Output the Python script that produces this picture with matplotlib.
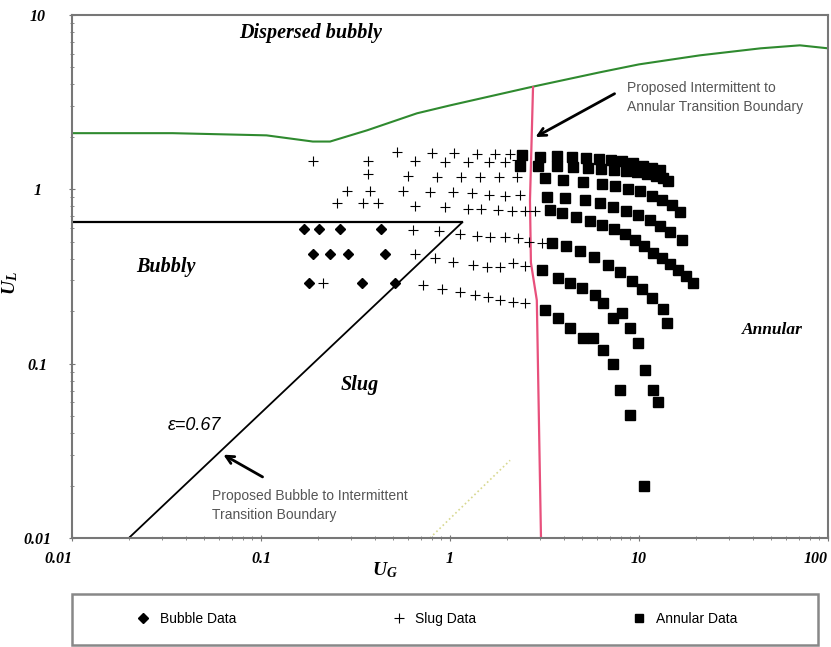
import matplotlib
matplotlib.use("Agg")
import matplotlib.pyplot as plt
from matplotlib.lines import Line2D
from matplotlib.patches import Rectangle

# ---------------- data ----------------
# bubble data (diamonds)
bubble_ug = [0.169, 0.203, 0.262, 0.431, 0.188, 0.232, 0.289, 0.453, 0.179, 0.342, 0.512]
bubble_ul = [0.589, 0.589, 0.589, 0.589, 0.424, 0.424, 0.424, 0.424, 0.289, 0.289, 0.289]

# slug data (+), row by row
slug_ug = [0.188, 0.368, 0.525, 0.653, 0.803, 0.941, 1.05, 1.25, 1.39, 1.61, 1.73, 1.95, 2.08, 2.26,
           0.368, 0.600, 0.854, 1.14, 1.44, 1.82, 2.26,
           0.285, 0.377, 0.564, 0.784, 1.04, 1.31, 1.61, 1.95, 2.35,
           0.252, 0.347, 0.416, 0.653, 0.941, 1.25, 1.46, 1.79, 2.13, 2.49, 2.82,
           0.637, 0.875, 1.13, 1.39, 1.63, 1.95, 2.29, 2.62, 3.07,
           0.653, 0.833, 1.04, 1.32, 1.57, 1.84, 2.15, 2.49,
           0.213, 0.720, 0.907, 1.13, 1.36, 1.59, 1.84, 2.15, 2.49]
slug_ul = [1.45, 1.45, 1.63, 1.45, 1.61, 1.43, 1.61, 1.43, 1.59, 1.43, 1.59, 1.43, 1.59, 1.47,
           1.22, 1.19, 1.17, 1.17, 1.17, 1.17, 1.17,
           0.974, 0.974, 0.974, 0.961, 0.961, 0.948, 0.924, 0.912, 0.924,
           0.831, 0.831, 0.831, 0.798, 0.788, 0.768, 0.768, 0.758, 0.748, 0.748, 0.748,
           0.582, 0.574, 0.552, 0.537, 0.530, 0.530, 0.524, 0.497, 0.490,
           0.424, 0.402, 0.381, 0.366, 0.357, 0.357, 0.376, 0.361,
           0.289, 0.281, 0.267, 0.256, 0.247, 0.240, 0.231, 0.225, 0.222]

# annular data (squares), arc by arc
annular_ug = [2.40, 2.99, 3.68, 4.42, 5.24, 6.14, 7.11, 8.13, 9.30, 10.5, 11.7, 12.9,
              2.35, 2.92, 3.68, 4.48, 5.37, 6.29, 7.37, 8.54, 9.76, 11.0, 12.3, 13.4, 14.2,
              3.18, 3.96, 5.05, 6.37, 7.46, 8.74, 10.1, 11.7, 13.2, 14.9, 16.5,
              3.26, 4.06, 5.18, 6.22, 7.28, 8.54, 9.88, 11.4, 12.9, 14.6, 16.9,
              3.38, 3.91, 4.64, 5.50, 6.37, 7.37, 8.43, 9.52, 10.6, 11.9, 13.2, 14.6, 16.1, 17.7, 19.3,
              3.46, 4.11, 4.87, 5.78, 6.85, 7.93, 9.18, 10.4, 11.7, 13.4, 14.1,
              3.07, 3.73, 4.31, 4.99, 5.85, 6.45, 7.28, 8.13, 8.96, 9.88, 10.8, 11.9, 12.6,
              3.18, 3.73, 4.31, 5.05, 5.71, 6.45, 7.28, 7.93, 8.96, 10.6]
annular_ul = [1.57, 1.53, 1.55, 1.53, 1.51, 1.49, 1.47, 1.45, 1.41, 1.37, 1.33, 1.29,
              1.355, 1.37, 1.37, 1.34, 1.32, 1.30, 1.29, 1.27, 1.25, 1.22, 1.19, 1.16, 1.12,
              1.16, 1.13, 1.10, 1.08, 1.04, 1.0, 0.974, 0.912, 0.865, 0.810, 0.738,
              0.900, 0.888, 0.865, 0.831, 0.788, 0.748, 0.710, 0.664, 0.614, 0.567, 0.510,
              0.758, 0.728, 0.691, 0.655, 0.622, 0.589, 0.552, 0.510, 0.471, 0.432, 0.402, 0.372, 0.343, 0.317, 0.289,
              0.490, 0.471, 0.441, 0.407, 0.366, 0.334, 0.297, 0.267, 0.237, 0.207, 0.170,
              0.343, 0.310, 0.289, 0.270, 0.247, 0.222, 0.182, 0.194, 0.161, 0.131, 0.0916, 0.0703, 0.060,
              0.202, 0.182, 0.161, 0.140, 0.140, 0.119, 0.100, 0.0703, 0.0505, 0.020]

# transition boundaries
disp_ug = [0.01, 0.034, 0.107, 0.188, 0.232, 0.364, 0.669, 1.0, 2.65, 6.2, 10, 21, 44, 71, 100]
disp_ul = [2.10, 2.10, 2.04, 1.88, 1.88, 2.18, 2.73, 3.03, 3.85, 4.69, 5.21, 5.87, 6.44, 6.70, 6.44]

bub_ug = [0.01, 1.16]          # horizontal bubbly / dispersed limit
bub_ul = [0.646, 0.646]
void_ug = [0.02, 1.16]         # epsilon = 0.67 line
void_ul = [0.01, 0.646]
ann_ug = [2.75, 2.65, 2.68, 2.88, 3.03]   # intermittent -> annular
ann_ul = [3.85, 0.865, 0.38, 0.231, 0.01]
dot_ug = [0.784, 2.08]
dot_ul = [0.01, 0.0279]

xticks = [0.01, 0.1, 1, 10, 100]
xlabels = ['0.01', '0.1', '1', '10', '100']
yticks = [0.01, 0.1, 1, 10]
ylabels = ['0.01', '0.1', '1', '10']

# ---------------- figure ----------------
serif = 'Liberation Serif'
sans = 'Liberation Sans'
plt.rcParams['mathtext.fontset'] = 'custom'
plt.rcParams['mathtext.it'] = 'Liberation Serif:bold:italic'
plt.rcParams['mathtext.rm'] = 'Liberation Serif:bold:italic'

fig = plt.figure(figsize=(8.31, 6.47), dpi=100)
ax = fig.add_axes([0.0866, 0.1685, 0.9098, 0.8083])

ax.set_xscale('log')
ax.set_yscale('log')
ax.set_xlim(0.01, 100)
ax.set_ylim(0.01, 10)

# boundaries
ax.plot(disp_ug, disp_ul, color='#2f8a2f', lw=1.5)
ax.plot(bub_ug, bub_ul, color='black', lw=1.6)
ax.plot(void_ug, void_ul, color='black', lw=1.3)
ax.plot(ann_ug, ann_ul, color='#e8507c', lw=1.6)
ax.plot(dot_ug, dot_ul, color='#d8d890', lw=1.2, ls=':')

# data
ax.plot(bubble_ug, bubble_ul, 'D', color='black', ms=5.5, ls='none')
ax.plot(slug_ug, slug_ul, '+', color='black', ms=7, mew=0.8, ls='none')
ax.plot(annular_ug, annular_ul, 's', color='black', ms=6.5, ls='none')

# axes look
for s in ax.spines.values():
    s.set_color('#777777')
    s.set_linewidth(1.5)
ax.tick_params(which='major', direction='inout', length=5, color='#777777')
ax.tick_params(which='minor', direction='inout', length=3, color='#777777')
ax.tick_params(axis='y', pad=22)
ax.tick_params(axis='x', pad=7)
tfont = dict(fontfamily=serif, fontstyle='italic', fontweight='bold', fontsize=11.5)
ax.set_xticks(xticks)
ax.set_xticklabels(xlabels, **tfont)
ax.get_xticklabels()[0].set_ha('right')
ax.get_xticklabels()[-1].set_ha('right')
ax.set_yticks(yticks)
ax.set_yticklabels(ylabels, ha='center', **tfont)

ax.set_xlabel('$U_G$', fontsize=14)
ax.xaxis.set_label_coords(0.414, -0.042)
ax.set_ylabel('$U_L$', fontsize=14)
ax.yaxis.set_label_coords(-0.069, 0.488)

# region names
reg = dict(fontfamily=serif, fontstyle='italic', fontweight='bold', ha='center', va='center')
ax.text(0.315, 0.966, 'Dispersed bubbly', fontsize=14.5, transform=ax.transAxes, **reg)
ax.text(0.124, 0.518, 'Bubbly', fontsize=14.5, transform=ax.transAxes, **reg)
ax.text(0.381, 0.293, 'Slug', fontsize=14.5, transform=ax.transAxes, **reg)
ax.text(0.926, 0.398, 'Annular', fontsize=12.5, transform=ax.transAxes, **reg)

ax.text(0.126, 0.216, 'ε=0.67', fontfamily=sans, fontstyle='italic', fontsize=13,
        ha='left', va='center', transform=ax.transAxes)

# annotations with arrows
ax.annotate('', xy=(0.0614, 0.0306), xytext=(0.105, 0.022),
            arrowprops=dict(arrowstyle='->', lw=2, color='black', mutation_scale=14))
ax.text(0.185, 0.094, 'Proposed Bubble to Intermittent\nTransition Boundary', fontfamily=sans,
        fontsize=10, color='#555555', ha='left', va='top', linespacing=1.45, transform=ax.transAxes)

ax.annotate('', xy=(2.75, 1.96), xytext=(7.65, 3.60),
            arrowprops=dict(arrowstyle='->', lw=2, color='black', mutation_scale=14))
ax.text(0.734, 0.874, 'Proposed Intermittent to\nAnnular Transition Boundary', fontfamily=sans,
        fontsize=10, color='#555555', ha='left', va='top', linespacing=1.45, transform=ax.transAxes)

# legend under the plot
fig.patches.append(Rectangle((0.0866, 0.003), 0.8977, 0.0788, transform=fig.transFigure,
                             fill=False, edgecolor='#888888', lw=1.8))
handles = [Line2D([], [], marker='D', color='black', ms=5.5, ls='none'),
           Line2D([], [], marker='+', color='black', ms=7, mew=0.8, ls='none'),
           Line2D([], [], marker='s', color='black', ms=6, ls='none')]
fig.legend(handles, ['Bubble Data', 'Slug Data', 'Annular Data'], loc='center',
           bbox_to_anchor=(0.1637, 0.0333, 0.7232, 0.02), mode='expand', ncol=3,
           frameon=False, borderaxespad=0, borderpad=0, handlelength=1, handletextpad=0.7,
           prop={'family': sans, 'size': 10})

plt.savefig('out.png', dpi=100)
